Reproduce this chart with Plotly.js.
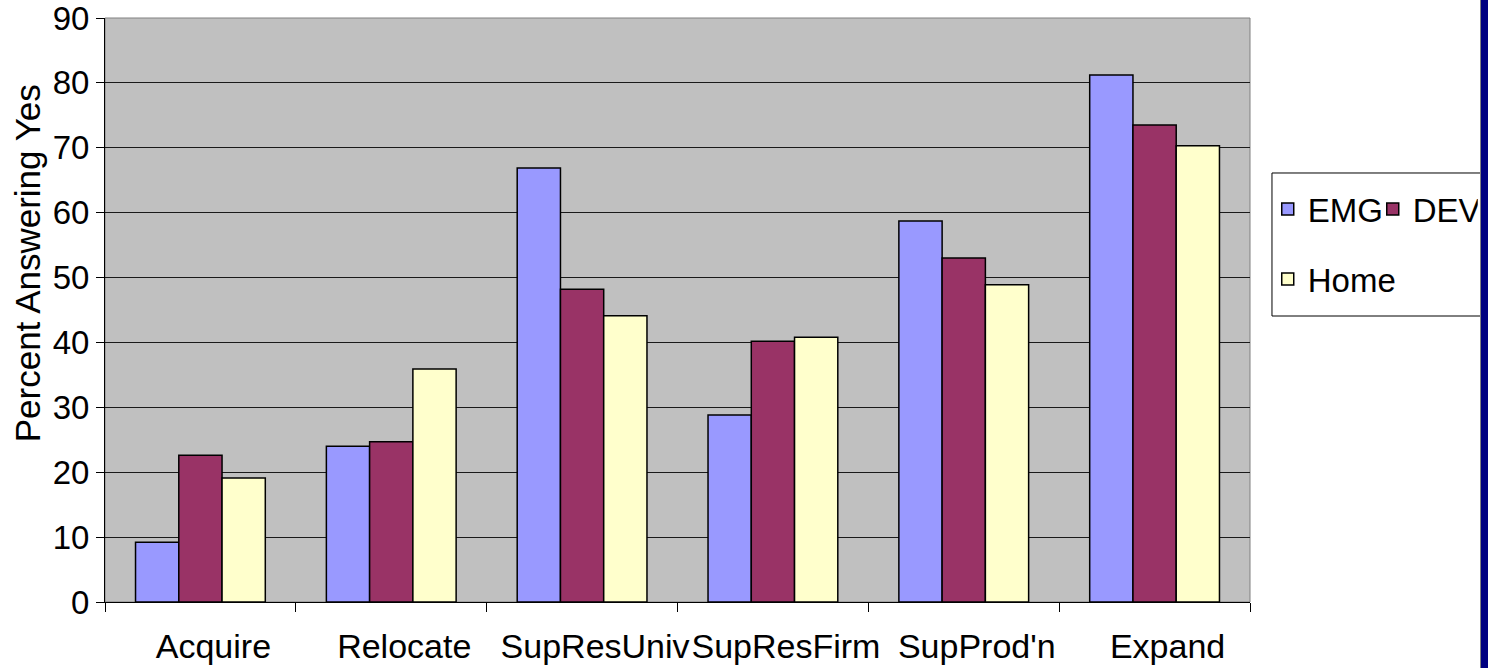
<!DOCTYPE html>
<html>
<head>
<meta charset="utf-8">
<script src="https://cdn.plot.ly/plotly-3.0.1.min.js"></script>
<style>
  html, body { margin: 0; padding: 0; background: #ffffff; }
  #wrap { position: relative; width: 1488px; height: 668px; overflow: hidden; }
  #chart { position: absolute; left: 0; top: 0; width: 1480px; height: 668px; overflow: hidden; }
  #edge { position: absolute; left: 1480px; top: 0; width: 7px; height: 668px;
          background: #000080; border-left: 1px solid #808080; }
</style>
</head>
<body>
<div id="wrap">
  <div id="chart"></div>
  <div id="edge"></div>
</div>
<script>
// Share of firms answering "yes" for each motive, by firm group
const categories = ["Acquire", "Relocate", "SupResUniv", "SupResFirm", "SupProd'n", "Expand"];
const emgValues  = [9.2, 24.0, 66.9, 28.8, 58.7, 81.2];
const devValues  = [22.6, 24.7, 48.2, 40.2, 53.0, 73.5];
const homeValues = [19.1, 35.9, 44.1, 40.8, 48.9, 70.3];
const seriesNames = ["EMG", "DEV", "Home"];
const yTicks = [0, 10, 20, 30, 40, 50, 60, 70, 80, 90];

const FONT = "Liberation Sans, Arial, Helvetica, sans-serif";
const outline = { color: "#000000", width: 1.5 };

function barTrace(name, values, color, legendId) {
  return {
    type: "bar",
    name: name,
    x: categories,
    y: values,
    marker: { color: color, line: outline },
    legend: legendId,
    hoverinfo: "x+y+name"
  };
}

const traces = [
  barTrace(seriesNames[0], emgValues, "#9999FF", "legend"),
  barTrace(seriesNames[1], devValues, "#993366", "legend"),
  barTrace(seriesNames[2], homeValues, "#FFFFCC", "legend2")
];

const legendCommon = {
  orientation: "h",
  xanchor: "left",
  yanchor: "top",
  x: 1.0155,
  bgcolor: "rgba(0,0,0,0)",
  borderwidth: 0,
  font: { family: FONT, size: 33, color: "#000000" },
  itemwidth: 30,
  traceorder: "normal"
};

const layout = {
  width: 1480,
  height: 668,
  margin: { l: 105, r: 230, t: 18, b: 66, autoexpand: false },
  paper_bgcolor: "#ffffff",
  plot_bgcolor: "#C0C0C0",
  font: { family: FONT, color: "#000000" },
  barmode: "group",
  bargap: 0.32,
  bargroupgap: 0,
  showlegend: true,
  // first row: EMG and DEV side by side
  legend: Object.assign({}, legendCommon, { y: 0.7209, entrywidth: 60, entrywidthmode: "pixels" }),
  // second row: Home
  legend2: Object.assign({}, legendCommon, { y: 0.601 }),
  xaxis: {
    type: "category",
    categoryorder: "array",
    categoryarray: categories,
    showline: true,
    linecolor: "#000000",
    linewidth: 1,
    ticks: "outside",
    tickson: "boundaries",
    ticklen: 9,
    tickcolor: "#000000",
    tickwidth: 1,
    tickangle: 0,
    ticklabelshift: 13,
    ticklabelstandoff: 14,
    ticklabeloverflow: "allow",
    tickfont: { family: FONT, size: 34, color: "#000000" },
    showgrid: false,
    zeroline: false,
    fixedrange: true
  },
  yaxis: {
    range: [0, 90],
    tickvals: yTicks,
    ticktext: yTicks.map(String),
    showline: true,
    linecolor: "#000000",
    linewidth: 1,
    ticks: "outside",
    ticklen: 8,
    tickcolor: "#000000",
    tickwidth: 1,
    ticklabeloverflow: "allow",
    tickfont: { family: FONT, size: 33, color: "#000000" },
    showgrid: true,
    gridcolor: "#1a1a1a",
    gridwidth: 1,
    zeroline: false,
    fixedrange: true
  },
  shapes: [
    // grey frame round the plotting area
    { type: "rect", xref: "paper", yref: "paper", x0: 0, x1: 1, y0: 0, y1: 1,
      line: { color: "#808080", width: 1 }, fillcolor: "rgba(0,0,0,0)", layer: "below" },
    // legend frame
    { type: "rect", xref: "paper", yref: "paper", x0: 1.0192, x1: 1.25, y0: 0.4897, y1: 0.7346,
      line: { color: "#000000", width: 1 }, fillcolor: "rgba(0,0,0,0)", layer: "above" }
  ],
  annotations: [
    { text: "Percent Answering Yes", xref: "paper", yref: "paper",
      x: -0.067, y: 0.5805, xanchor: "center", yanchor: "middle", textangle: -90,
      showarrow: false, font: { family: FONT, size: 35, color: "#000000" } }
  ]
};

Plotly.newPlot("chart", traces, layout, { displayModeBar: false, staticPlot: true });
</script>
</body>
</html>
